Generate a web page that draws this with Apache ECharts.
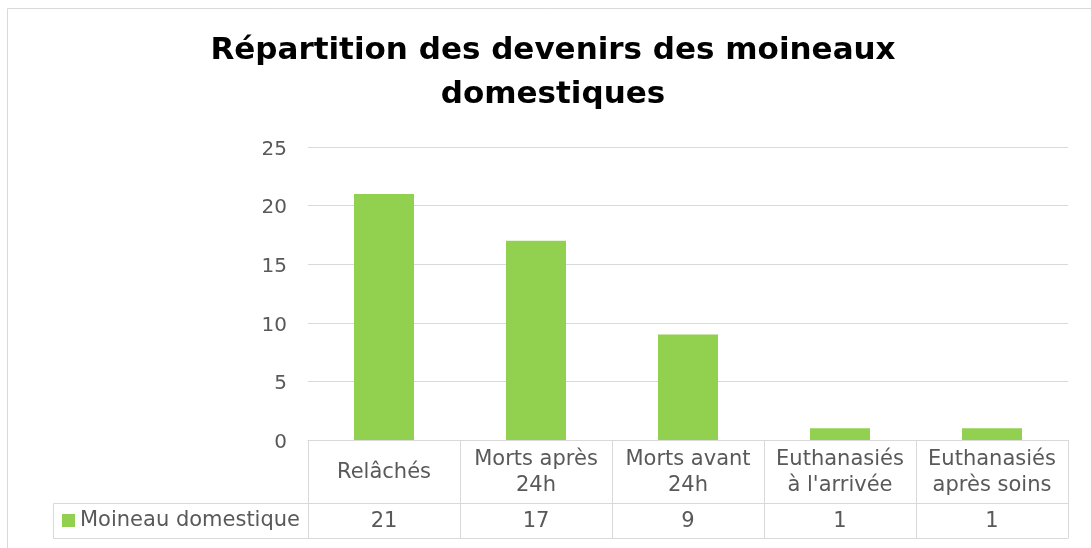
<!DOCTYPE html>
<html>
<head>
<meta charset="utf-8">
<script src="https://cdn.jsdelivr.net/npm/echarts@6/dist/echarts.min.js"></script>
<style>
  html, body { margin: 0; padding: 0; background: #ffffff; }
  #chart { width: 1091px; height: 548px; }
</style>
</head>
<body>
<div id="chart"></div>
<script>
const titleText = 'Répartition des devenirs des moineaux\ndomestiques';
const seriesName = 'Moineau domestique';
const categories = ['Relâchés', 'Morts après\n24h', 'Morts avant\n24h', 'Euthanasiés\nà l\'arrivée', 'Euthanasiés\naprès soins'];
const values = [21, 17, 9, 1, 1];
const yTicks = [0, 5, 10, 15, 20, 25];

const FONT = 'DejaVu Sans';
const TEXT = '#595959';
const LINE = '#D9D9D9';

// layout
const plotLeft = 308, plotTop = 147, plotW = 760, plotH = 293;
const headerH = 63, rowH = 35;
const legendCellLeft = 53;

const chart = echarts.init(document.getElementById('chart'), null, { renderer: 'canvas' });

const option = {
  backgroundColor: '#ffffff',
  animation: false,
  title: {
    text: titleText,
    left: 553,
    top: 29,
    padding: 0,
    textAlign: 'center',
    textStyle: { fontFamily: FONT, fontWeight: 'bold', fontSize: 31, lineHeight: 44, color: '#000000' }
  },
  legend: {
    data: [seriesName],
    left: 62,
    top: plotTop + plotH + headerH + 7,
    padding: 0,
    icon: 'rect',
    itemWidth: 13,
    itemHeight: 13,
    textStyle: { fontFamily: FONT, fontSize: 21, color: TEXT }
  },
  grid: [
    { left: plotLeft, top: plotTop, width: plotW, height: plotH, containLabel: false },
    { left: plotLeft, top: plotTop + plotH + headerH, width: plotW, height: rowH, containLabel: false }
  ],
  xAxis: [
    {
      type: 'category', gridIndex: 0, data: categories, position: 'bottom',
      axisLine: { show: true, onZero: false, lineStyle: { color: LINE, width: 1 } },
      axisTick: { show: true, length: headerH + rowH, lineStyle: { color: LINE, width: 1 } },
      axisLabel: { interval: 0, margin: 33, verticalAlign: 'middle', fontFamily: FONT, fontSize: 21, lineHeight: 26, color: TEXT },
      splitLine: { show: false }
    },
    {
      type: 'category', gridIndex: 1, data: values.map(String), position: 'top',
      axisLine: { show: true, onZero: false, lineStyle: { color: LINE, width: 1 } },
      axisTick: { show: false },
      axisLabel: { inside: true, interval: 0, margin: 19, verticalAlign: 'middle', fontFamily: FONT, fontSize: 21, color: TEXT },
      splitLine: { show: false }
    },
    {
      type: 'category', gridIndex: 1, data: values.map(String), position: 'bottom',
      axisLine: { show: true, onZero: false, lineStyle: { color: LINE, width: 1 } },
      axisTick: { show: false },
      axisLabel: { show: false },
      splitLine: { show: false }
    }
  ],
  yAxis: [
    {
      type: 'value', gridIndex: 0, min: yTicks[0], max: yTicks[yTicks.length - 1], interval: yTicks[1] - yTicks[0],
      axisLine: { show: false }, axisTick: { show: false },
      axisLabel: {
        margin: 21, verticalAlign: 'middle', color: TEXT,
        formatter: '{v|{value}}',
        rich: { v: { fontFamily: FONT, fontSize: 20, color: TEXT, padding: [5, 0, 0, 0] } }
      },
      splitLine: { show: true, lineStyle: { color: LINE, width: 1 } }
    },
    {
      type: 'value', gridIndex: 1, show: false, min: 0, max: 1
    }
  ],
  series: [
    {
      name: seriesName,
      type: 'bar',
      xAxisIndex: 0,
      yAxisIndex: 0,
      data: values,
      barWidth: 60,
      itemStyle: { color: '#92D050' }
    }
  ],
  graphic: [
    {
      type: 'rect', silent: true, z: -1,
      shape: { x: 7.5, y: 8.5, width: 1300, height: 800 },
      style: { fill: 'none', stroke: LINE, lineWidth: 1 }
    },
    {
      type: 'rect', silent: true,
      shape: { x: legendCellLeft + 0.5, y: plotTop + plotH + headerH + 0.5, width: plotLeft - legendCellLeft, height: rowH },
      style: { fill: 'none', stroke: LINE, lineWidth: 1 }
    }
  ]
};

chart.setOption(option);
</script>
</body>
</html>
